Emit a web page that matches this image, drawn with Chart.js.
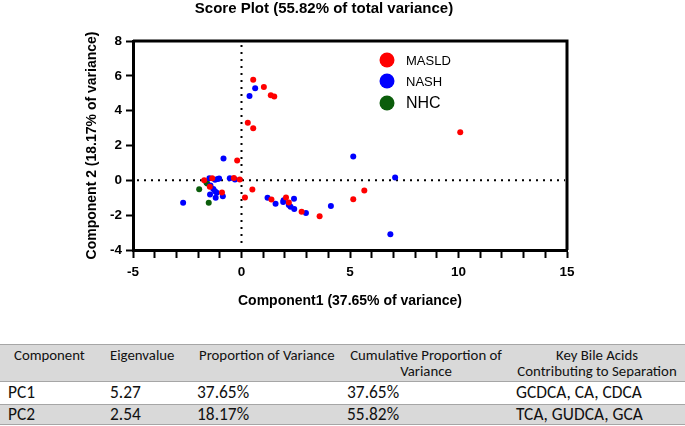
<!DOCTYPE html>
<html>
<head>
<meta charset="utf-8">
<script src="https://cdn.jsdelivr.net/npm/chart.js@4.4.1/dist/chart.umd.min.js"></script>
<style>
    html, body { margin: 0; padding: 0; background: #fff; }
    #wrap { position: relative; width: 685px; height: 426px; overflow: hidden; }
    #chartBox { position: absolute; left: 0; top: 0; width: 685px; height: 320px; }
    #pcaTable {
        position: absolute; left: 0; top: 344px; width: 685px; height: 82px;
        font-family: Carlito, Lato, sans-serif;
        color: #111;
    }
    .row { position: absolute; left: 0; width: 685px; box-sizing: border-box; border-top: 1px solid #a6a6a6; }
    .row.gray { background: #d9d9d9; }
    .row.last { border-bottom: 1px solid #a6a6a6; }
    .cell { position: absolute; white-space: nowrap; }
</style>
</head>
<body>
<div id="wrap">
    <div id="chartBox"><canvas id="scoreChart"></canvas></div>
    <div id="pcaTable"></div>
</div>
<script>
// Score plot points [component1, component2]
const masldPoints = [
    [0.54, 5.78], [1.03, 5.36], [1.35, 4.88], [1.51, 4.81], [0.29, 3.30], [0.54, 2.99],
    [10.08, 2.76], [-0.20, 1.14], [-0.35, 0.14], [-0.08, 0.05], [-1.35, 0.12], [-1.72, 0.00],
    [-1.46, -0.37], [-0.90, -0.70], [0.50, -0.52], [0.16, -0.98], [1.38, -1.10], [2.05, -0.99],
    [2.18, -1.27], [2.77, -1.81], [3.60, -2.06], [5.66, -0.59], [5.15, -1.08]
];
const nashPoints = [
    [0.37, 4.84], [0.63, 5.29], [5.15, 1.37], [7.08, 0.16], [6.86, -3.09], [-2.69, -1.29],
    [-0.83, 1.25], [-1.48, 0.12], [-1.22, 0.04], [-1.10, 0.08], [-1.03, 0.10], [-0.54, 0.12],
    [-0.30, 0.05], [-1.43, -0.30], [-1.30, -0.50], [-1.22, -0.62], [-1.14, -0.72], [-1.45, -0.81],
    [-1.19, -1.00], [-0.86, -0.92], [1.20, -1.00], [1.57, -1.35], [1.94, -1.14], [1.92, -1.25],
    [2.18, -1.41], [2.26, -1.52], [2.42, -1.06], [2.43, -1.65], [2.97, -1.87], [4.12, -1.48]
];
const nhcPoints = [
    [-1.62, -0.12], [-1.58, -0.18], [-1.95, -0.51], [-1.51, -1.28]
];
const groupLabels = ['MASLD', 'NASH', 'NHC'];
const groupColors = ['#ff0000', '#0000ff', '#0b5d0b'];

const xTickLabels = [-5, 0, 5, 10, 15];
const yTickLabels = [-4, -2, 0, 2, 4, 6, 8];

// Table contents
const tableHeader = [
    ['Component'], ['Eigenvalue'], ['Proportion of Variance'],
    ['Cumulative Proportion of', 'Variance'], ['Key Bile Acids', 'Contributing to Separation']
];
const components = ['PC1', 'PC2'];
const eigenvalues = ['5.27', '2.54'];
const proportions = ['37.65%', '18.17%'];
const cumulative = ['37.65%', '55.82%'];
const keyAcids = ['GCDCA, CA, CDCA', 'TCA, GUDCA, GCA'];

const toXY = pts => pts.map(p => ({ x: p[0], y: p[1] }));
const axisFont = { family: 'Arial, "Liberation Sans", sans-serif', size: 13.5, weight: 'bold' };
const titleFont = { family: 'Arial, "Liberation Sans", sans-serif', size: 14, weight: 'bold' };

// dotted zero lines + closing box on top/right
const framePlugin = {
    id: 'frame',
    beforeDatasetsDraw(chart) {
        const { ctx, chartArea, scales } = chart;
        const x0 = scales.x.getPixelForValue(0);
        const y0 = scales.y.getPixelForValue(0);
        ctx.save();
        ctx.strokeStyle = '#000';
        ctx.lineWidth = 2;
        ctx.setLineDash([2, 5]);
        ctx.beginPath();
        ctx.moveTo(chartArea.left + 4, y0);
        ctx.lineTo(chartArea.right - 2, y0);
        ctx.moveTo(x0, chartArea.top + 4);
        ctx.lineTo(x0, chartArea.bottom - 2);
        ctx.stroke();
        ctx.restore();
    },
    afterDraw(chart) {
        const { ctx, chartArea } = chart;
        ctx.save();
        ctx.strokeStyle = '#000';
        ctx.lineWidth = 3;
        ctx.beginPath();
        ctx.moveTo(chartArea.left, chartArea.top);
        ctx.lineTo(chartArea.right, chartArea.top);
        ctx.lineTo(chartArea.right, chartArea.bottom);
        ctx.stroke();
        ctx.restore();
    }
};

// legend drawn inside the plot
const legendPlugin = {
    id: 'innerLegend',
    afterDatasetsDraw(chart) {
        const { ctx, chartArea } = chart;
        const rows = [19, 40, 62];
        const sizes = [13, 13, 16];
        ctx.save();
        chart.data.datasets.forEach((ds, i) => {
            const y = chartArea.top + rows[i];
            const x = chartArea.left + 254;
            ctx.beginPath();
            ctx.arc(x, y, 7.5, 0, Math.PI * 2);
            ctx.fillStyle = ds.backgroundColor;
            ctx.fill();
            ctx.fillStyle = '#000';
            ctx.font = sizes[i] + 'px Arial, "Liberation Sans", sans-serif';
            ctx.textBaseline = 'middle';
            ctx.fillText(ds.label, x + 19, y + 1);
        });
        ctx.restore();
    }
};

const ctx = document.getElementById('scoreChart').getContext('2d');
new Chart(ctx, {
    type: 'scatter',
    data: {
        datasets: [masldPoints, nashPoints, nhcPoints].map((pts, i) => ({
            label: groupLabels[i],
            data: toXY(pts),
            backgroundColor: groupColors[i],
            borderWidth: 0,
            pointRadius: 3,
            pointHoverRadius: 3
        }))
    },
    options: {
        responsive: true,
        maintainAspectRatio: false,
        animation: false,
        layout: { padding: { left: 81, right: 118, top: 0, bottom: 10 } },
        plugins: {
            legend: { display: false },
            tooltip: { enabled: false },
            title: {
                display: true,
                text: 'Score Plot (55.82% of total variance)',
                color: '#000',
                font: { family: 'Arial, "Liberation Sans", sans-serif', size: 15, weight: 'bold' },
                padding: { top: 0, bottom: 23 }
            }
        },
        scales: {
            x: {
                type: 'linear',
                min: xTickLabels[0],
                max: xTickLabels[xTickLabels.length - 1],
                afterFit: s => { s.height = 60; },
                border: { display: true, color: '#000', width: 3 },
                grid: { drawOnChartArea: false, drawTicks: true, tickLength: 8, tickWidth: 2, tickColor: '#000' },
                ticks: {
                    stepSize: 1,
                    autoSkip: false,
                    maxTicksLimit: 30,
                    maxRotation: 0,
                    padding: 6,
                    color: '#000',
                    font: axisFont,
                    callback: v => xTickLabels.includes(v) ? v : ''
                },
                title: {
                    display: true,
                    text: 'Component1 (37.65% of variance)',
                    color: '#000',
                    font: titleFont,
                    padding: { top: 0, bottom: 0 }
                }
            },
            y: {
                type: 'linear',
                min: yTickLabels[0],
                max: yTickLabels[yTickLabels.length - 1],
                afterFit: s => { s.width = 52; },
                border: { display: true, color: '#000', width: 3 },
                grid: { drawOnChartArea: false, drawTicks: true, tickLength: 7, tickWidth: 2, tickColor: '#000' },
                ticks: {
                    stepSize: 2,
                    autoSkip: false,
                    padding: 4,
                    color: '#000',
                    font: axisFont
                },
                title: {
                    display: true,
                    text: 'Component 2 (18.17% of variance)',
                    color: '#000',
                    font: titleFont,
                    padding: { top: 3, bottom: 0 }
                }
            }
        }
    },
    plugins: [framePlugin, legendPlugin]
});

// table below the plot
function buildTable() {
    const box = document.getElementById('pcaTable');
    const rowSpecs = [
        { top: 0, height: 37, cls: 'gray' },
        { top: 37, height: 23, cls: '' },
        { top: 60, height: 21, cls: 'gray last' }
    ];
    const rows = rowSpecs.map(r => {
        const d = document.createElement('div');
        d.className = 'row ' + r.cls;
        d.style.top = r.top + 'px';
        d.style.height = r.height + 'px';
        box.appendChild(d);
        return d;
    });
    const addCell = (row, text, left, opts) => {
        const c = document.createElement('div');
        c.className = 'cell';
        c.textContent = text;
        c.style.fontSize = opts.size + 'px';
        c.style.lineHeight = opts.lh + 'px';
        c.style.top = opts.top + 'px';
        if (opts.center) {
            c.style.left = (left - 100) + 'px';
            c.style.width = '200px';
            c.style.textAlign = 'center';
        } else {
            c.style.left = left + 'px';
        }
        row.appendChild(c);
    };
    // header
    const headLeft = [14, 110, 199, 426, 597];
    const headCenter = [false, false, false, true, true];
    tableHeader.forEach((lines, i) => {
        lines.forEach((t, j) => addCell(rows[0], t, headLeft[i], { size: 14.8, lh: 16, top: 2 + j * 16, center: headCenter[i] }));
    });
    const dataLeft = [8, 110, 197, 347, 516];
    components.forEach((comp, r) => {
        const vals = [comp, eigenvalues[r], proportions[r], cumulative[r], keyAcids[r]];
        vals.forEach((t, i) => addCell(rows[r + 1], t, dataLeft[i], { size: 17.4, lh: r === 0 ? 23 : 21, top: -1, center: false }));
    });
}
buildTable();
</script>
</body>
</html>
